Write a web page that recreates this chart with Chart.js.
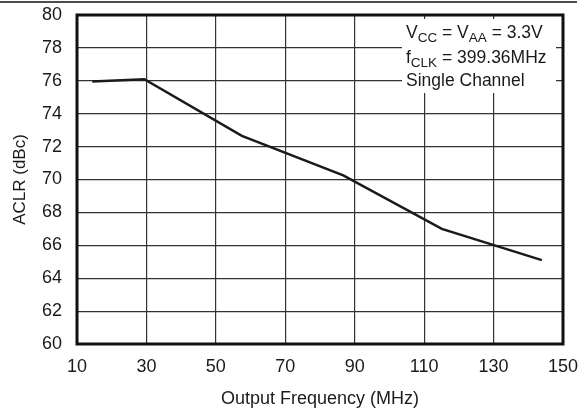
<!DOCTYPE html>
<html>
<head>
<meta charset="utf-8">
<script src="https://cdn.jsdelivr.net/npm/chart.js@4.4.0/dist/chart.umd.min.js"></script>
<style>
  html, body { margin: 0; padding: 0; background: #fff; }
  #wrap { width: 581px; height: 410px; }
</style>
</head>
<body>
<div id="wrap"><canvas id="aclrChart" width="581" height="410"></canvas></div>
<script>
// data
const freqMHz = [14.4, 29.4, 57.5, 86.7, 115.1, 143.9];
const aclrDbc = [75.95, 76.1, 72.65, 70.25, 67.0, 65.1];
const xTicks = [10, 30, 50, 70, 90, 110, 130, 150];
const yTicks = [60, 62, 64, 66, 68, 70, 72, 74, 76, 78, 80];

const FONT = "'Liberation Sans', Arial, Helvetica, sans-serif";

// frame, top rule and the condition box
const framePlugin = {
  id: "frame",
  beforeDatasetsDraw(chart) {
    const ctx = chart.ctx;
    const a = chart.chartArea;
    ctx.save();
    // condition box, white over the grid
    const bx = a.right - 161, by = a.top + 4;
    ctx.fillStyle = "#fff";
    ctx.fillRect(bx, by, 154, 74);
    ctx.fillStyle = "#1a1a1a";
    ctx.textBaseline = "alphabetic";
    function run(parts, x, y) {
      parts.forEach(function (p) {
        ctx.font = (p.sub ? "13.5px " : "17.5px ") + FONT;
        ctx.fillText(p.t, x, y + (p.sub ? 4 : 0));
        x += ctx.measureText(p.t).width;
      });
    }
    run([{ t: "V" }, { t: "CC", sub: true }, { t: " = V" }, { t: "AA", sub: true }, { t: " = 3.3V" }], bx + 4, by + 19);
    run([{ t: "f" }, { t: "CLK", sub: true }, { t: " = 399.36MHz" }], bx + 4, by + 44);
    run([{ t: "Single Channel" }], bx + 4, by + 67);
    ctx.restore();
  },
  afterDraw(chart) {
    const ctx = chart.ctx;
    const a = chart.chartArea;
    ctx.save();
    ctx.strokeStyle = "#111";
    ctx.lineWidth = 3;
    ctx.strokeRect(a.left, a.top, a.right - a.left, a.bottom - a.top);
    ctx.lineWidth = 1.5;
    ctx.beginPath();
    ctx.moveTo(0, 2);
    ctx.lineTo(577, 2);
    ctx.stroke();
    ctx.restore();
  }
};

new Chart(document.getElementById("aclrChart"), {
  type: "line",
  data: {
    datasets: [
      {
        label: "ACLR",
        data: freqMHz.map(function (f, i) { return { x: f, y: aclrDbc[i] }; }),
        borderColor: "#1a1a1a",
        borderWidth: 2.5,
        pointRadius: 0,
        tension: 0,
      },
    ],
  },
  options: {
    responsive: false,
    animation: false,
    layout: { padding: { top: 15, right: 18, left: 0, bottom: 0 } },
    plugins: { legend: { display: false }, tooltip: { enabled: false } },
    scales: {
      x: {
        type: "linear",
        min: 10,
        max: 150,
        afterBuildTicks: function (s) { s.ticks = xTicks.map(function (v) { return { value: v }; }); },
        afterFit: function (s) { s.height = 66; s.paddingLeft = 0; s.paddingRight = 0; },
        grid: { color: "#333", lineWidth: 1.2, drawTicks: false },
        border: { display: false },
        ticks: { color: "#1a1a1a", padding: 12, font: { family: FONT, size: 18 }, maxRotation: 0 },
        title: { display: true, text: "Output Frequency (MHz)", color: "#1a1a1a", padding: { top: 0, bottom: 0 }, font: { family: FONT, size: 18 } },
      },
      y: {
        min: 60,
        max: 80,
        afterBuildTicks: function (s) { s.ticks = yTicks.map(function (v) { return { value: v }; }); },
        afterFit: function (s) { s.width = 77; s.paddingTop = 0; s.paddingBottom = 0; },
        grid: { color: "#333", lineWidth: 1.2, drawTicks: false },
        border: { display: false },
        ticks: { color: "#1a1a1a", padding: 15, font: { family: FONT, size: 18 } },
        title: { display: true, text: "ACLR (dBc)", color: "#1a1a1a", padding: { top: 10, bottom: 0 }, font: { family: FONT, size: 17 } },
      },
    },
  },
  plugins: [framePlugin],
});
</script>
</body>
</html>
